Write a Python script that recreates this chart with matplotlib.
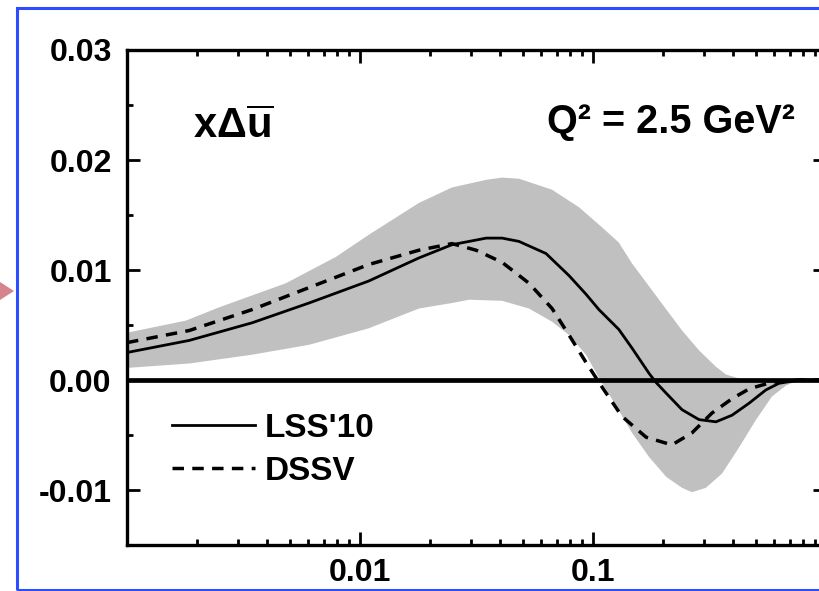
import numpy as np
import matplotlib
matplotlib.use("Agg")
import matplotlib.pyplot as plt
from matplotlib.patches import Rectangle, Polygon
from matplotlib.ticker import FixedLocator, FixedFormatter

plt.rcParams["font.family"] = ["Liberation Sans", "DejaVu Sans"]
plt.rcParams["font.weight"] = "bold"
plt.rcParams["mathtext.fontset"] = "custom"
plt.rcParams["mathtext.rm"] = "Liberation Sans:bold"
plt.rcParams["mathtext.bf"] = "Liberation Sans:bold"
plt.rcParams["mathtext.it"] = "Liberation Sans:bold"

# curves (x on log scale)
x_lss = [0.001, 0.00185, 0.00344, 0.00604, 0.0109, 0.0179, 0.0248, 0.0348, 0.0407,
         0.0481, 0.0628, 0.0788, 0.0933, 0.106, 0.129, 0.147, 0.174, 0.186, 0.206,
         0.241, 0.285, 0.337, 0.395, 0.468, 0.552, 0.628, 0.766, 1.0]
lss10 = [0.0025, 0.0036, 0.0052, 0.0070, 0.0090, 0.0111, 0.0123, 0.0129, 0.0129,
         0.0126, 0.0115, 0.0095, 0.0078, 0.0064, 0.0046, 0.0029, 0.0006, -0.0002,
         -0.0012, -0.0027, -0.0036, -0.0038, -0.0032, -0.0021, -0.0009, -0.0003,
         0.0, 0.0]

x_dssv = [0.001, 0.00185, 0.00344, 0.00604, 0.0109, 0.0179, 0.0248, 0.0315, 0.0407,
          0.0531, 0.0667, 0.0788, 0.0933, 0.109, 0.133, 0.169, 0.218, 0.266, 0.324,
          0.395, 0.468, 0.586, 0.766, 1.0]
dssv = [0.0034, 0.0045, 0.0064, 0.0084, 0.0105, 0.0118, 0.0124, 0.0118, 0.0107,
        0.0088, 0.0065, 0.0041, 0.0016, -0.0006, -0.0033, -0.0052, -0.0059,
        -0.0048, -0.0030, -0.0017, -0.0008, -0.0002, 0.0, 0.0]

x_hi = [0.001, 0.00179, 0.00248, 0.00481, 0.00789, 0.0109, 0.0179, 0.0248, 0.0348,
        0.0407, 0.0481, 0.0667, 0.0871, 0.109, 0.129, 0.147, 0.192, 0.241, 0.285,
        0.337, 0.372, 0.445, 0.766, 1.0]
band_hi = [0.0043, 0.0054, 0.0066, 0.0088, 0.0112, 0.0132, 0.0161, 0.0175, 0.0182,
           0.0184, 0.0183, 0.0173, 0.0157, 0.0139, 0.0125, 0.0106, 0.0073, 0.0045,
           0.0027, 0.0012, 0.0005, 0.0, 0.0, 0.0]

x_lo = [0.001, 0.00185, 0.00344, 0.00604, 0.0109, 0.0179, 0.0248, 0.0294, 0.0407,
        0.0531, 0.0667, 0.0788, 0.0933, 0.106, 0.126, 0.147, 0.174, 0.206, 0.241,
        0.266, 0.305, 0.358, 0.424, 0.501, 0.586, 0.673, 0.766, 1.0]
band_lo = [0.0011, 0.0015, 0.0023, 0.0032, 0.0047, 0.0065, 0.0070, 0.0073, 0.0072,
           0.0065, 0.0053, 0.0041, 0.0023, 0.0002, -0.0024, -0.0048, -0.0070,
           -0.0088, -0.0098, -0.0102, -0.0098, -0.0085, -0.0061, -0.0036, -0.0015,
           -0.0005, 0.0, 0.0]

x_major = [0.001, 0.01, 0.1, 1.0]
x_labels = ["", "0.01", "0.1", ""]
y_major = [-0.01, 0.0, 0.01, 0.02, 0.03]
y_labels = ["-0.01", "0.00", "0.01", "0.02", "0.03"]
y_minor = [-0.015, -0.005, 0.005, 0.015, 0.025]

fig = plt.figure(figsize=(8.19, 5.91), dpi=100)
ax = fig.add_axes([0.1551, 0.0778, 0.8535, 0.8376])

ax.fill(x_hi + x_lo[::-1], band_hi + band_lo[::-1], color="#c0c0c0", lw=0, zorder=1)
ax.axhline(0.0, color="black", lw=3.4, zorder=3)
ax.plot(x_lss, lss10, color="black", lw=2.0, label="LSS'10", zorder=4)
ax.plot(x_dssv, dssv, color="black", lw=2.5, ls=(0, (3.3, 2.4)), label="DSSV", zorder=4)

ax.set_xscale("log")
ax.set_xlim(0.001, 1.0)
ax.set_ylim(-0.015, 0.03)

ax.xaxis.set_major_locator(FixedLocator(x_major))
ax.xaxis.set_major_formatter(FixedFormatter(x_labels))
ax.set_yticks(y_major)
ax.set_yticklabels(y_labels)
ax.yaxis.set_minor_locator(FixedLocator(y_minor))

for s in ax.spines.values():
    s.set_linewidth(2.4)
ax.tick_params(which="both", direction="in", top=True, right=True,
               width=2.0, labelsize=23)
ax.tick_params(which="major", length=9.5)
ax.tick_params(which="minor", length=4.5)
ax.tick_params(axis="y", pad=11)
ax.tick_params(axis="x", pad=9)
for lab in ax.get_xticklabels() + ax.get_yticklabels():
    lab.set_fontweight("bold")

ax.text(0.094, 0.822, r"$x\Delta\overline{u}$", transform=ax.transAxes,
        fontsize=30, ha="left", va="baseline")
ax.text(0.601, 0.832, "Q² = 2.5 GeV²", transform=ax.transAxes,
        fontsize=28.5, ha="left", va="baseline", fontweight="bold")

leg = ax.legend(loc="lower left", bbox_to_anchor=(0.045, 0.09), frameon=False,
                fontsize=24, handlelength=2.5, handletextpad=0.3,
                labelspacing=0.36, borderaxespad=0)
for t in leg.get_texts():
    t.set_fontweight("bold")

# blue slide frame and pink pointer around the plot
fig.patches.append(Rectangle((17 / 819, 1 / 591), 1.0, 582 / 591,
                             transform=fig.transFigure, fill=False,
                             edgecolor="#2b4cff", lw=2.2))
fig.patches.append(Polygon([(0, 291 / 591), (0, 309 / 591), (14 / 819, 300 / 591)],
                           closed=True, transform=fig.transFigure,
                           facecolor="#d4848c", edgecolor="none"))

fig.savefig("out.png", dpi=100)
